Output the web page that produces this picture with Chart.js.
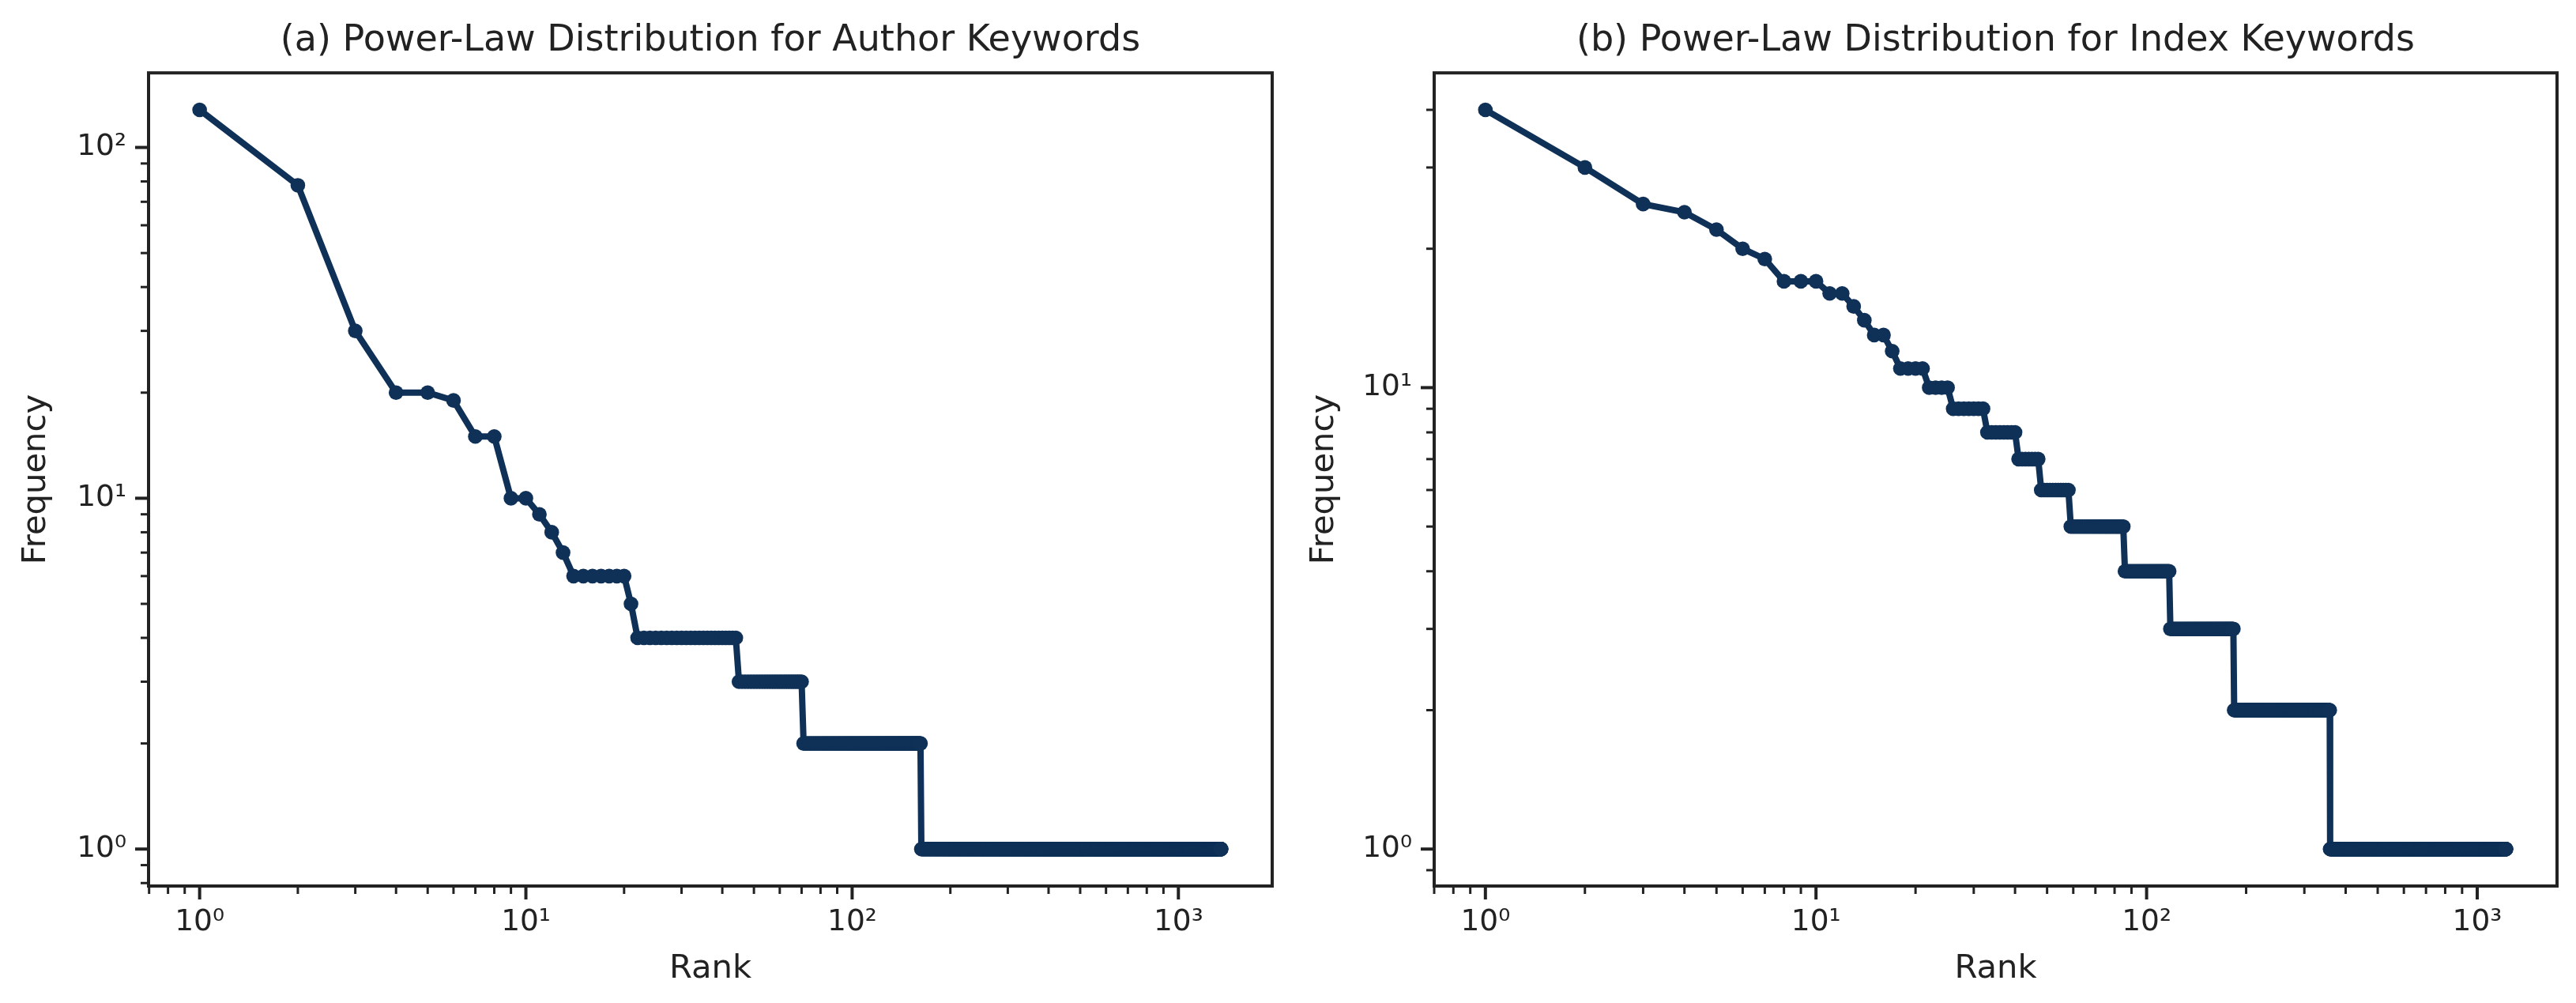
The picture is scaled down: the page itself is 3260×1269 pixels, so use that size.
<!DOCTYPE html>
<html>
<head>
<meta charset="utf-8">
<title>Power-Law Distributions</title>
<script src="https://cdn.jsdelivr.net/npm/chart.js@4.4.1/dist/chart.umd.min.js"></script>
<style>
  html, body { margin: 0; padding: 0; background: #fff; }
  #wrap { position: relative; width: 3260px; height: 1269px; }
  canvas { position: absolute; top: 0; }
</style>
</head>
<body>
<div id="wrap">
  <canvas id="authorChart" width="1630" height="1269" style="left:0"></canvas>
  <canvas id="indexChart" width="1630" height="1269" style="left:1630px"></canvas>
</div>
<script>
// keyword frequencies (highest first) and how many keywords share each one
const authorFreq = [128, 78, 30, 20, 19, 15, 10, 9, 8, 7, 6, 5, 4, 3, 2, 1]
const authorCount = [1, 1, 1, 2, 1, 2, 2, 1, 1, 1, 7, 1, 23, 26, 92, 1190]

const indexFreq = [40, 30, 25, 24, 22, 20, 19, 17, 16, 15, 14, 13, 12, 11, 10, 9, 8, 7, 6, 5, 4, 3, 2, 1]
const indexCount = [1, 1, 1, 1, 1, 1, 1, 3, 2, 1, 1, 2, 1, 4, 4, 7, 8, 7, 11, 27, 32, 66, 175, 864]

// tick labels
const rankTicks = [1, 10, 100, 1000]
const rankTickLabels = ['10⁰', '10¹', '10²', '10³']
const authorFreqTicks = [1, 10, 100]
const authorFreqTickLabels = ['10⁰', '10¹', '10²']
const indexFreqTicks = [1, 10]
const indexFreqTickLabels = ['10⁰', '10¹']

const lineColor = '#0f3157'
const ink = '#222222'

Chart.defaults.font.family = "'DejaVu Sans', sans-serif"
Chart.defaults.color = ink

// rank/frequency points: rank is the position in the sorted list
function toRankPoints(freqs, counts) {
    const pts = []
    let rank = 1
    freqs.forEach((f, i) => {
        for (let k = 0; k < counts[i]; k++) {
            pts.push({ x: rank, y: f })
            rank++
        }
    })
    return pts
}

// 5% padding in log space, like matplotlib autoscale
function logLimits(lo, hi) {
    const a = Math.log10(lo)
    const b = Math.log10(hi)
    const m = (b - a) * 0.05
    return [Math.pow(10, a - m), Math.pow(10, b + m)]
}

// box around the axes + outward major/minor ticks
const frameTicks = {
    id: 'frameTicks',
    afterDatasetsDraw(chart) {
        const { ctx, chartArea: a } = chart
        ctx.save()
        ctx.strokeStyle = ink
        ctx.lineWidth = 4
        ctx.strokeRect(a.left, a.top, a.right - a.left, a.bottom - a.top)
        ;['x', 'y'].forEach(id => {
            const s = chart.scales[id]
            const lo = Math.floor(Math.log10(s.min))
            const hi = Math.ceil(Math.log10(s.max))
            for (let e = lo; e <= hi; e++) {
                for (let m = 1; m <= 9; m++) {
                    const v = m * Math.pow(10, e)
                    if (v < s.min * 0.999 || v > s.max * 1.001) continue
                    const p = s.getPixelForValue(v)
                    const len = m === 1 ? 17 : 10
                    ctx.lineWidth = m === 1 ? 4 : 3
                    ctx.beginPath()
                    if (id === 'x') {
                        ctx.moveTo(p, a.bottom)
                        ctx.lineTo(p, a.bottom + len)
                    } else {
                        ctx.moveTo(a.left, p)
                        ctx.lineTo(a.left - len, p)
                    }
                    ctx.stroke()
                }
            }
        })
        ctx.restore()
    }
}

function makeChart(canvasId, title, freqs, counts, yTicks, yTickLabels, leftW, rightPad) {
    const points = toRankPoints(freqs, counts)
    const [xMin, xMax] = logLimits(1, points.length)
    const [yMin, yMax] = logLimits(Math.min(...freqs), Math.max(...freqs))

    return new Chart(document.getElementById(canvasId), {
        type: 'line',
        data: {
            datasets: [
                {
                    data: points,
                    borderColor: lineColor,
                    backgroundColor: lineColor,
                    borderWidth: 8,
                    pointRadius: 9.3,
                    pointHoverRadius: 9.3,
                    pointBorderWidth: 0,
                    pointBackgroundColor: lineColor,
                    tension: 0,
                    clip: false
                }
            ]
        },
        options: {
            responsive: false,
            animation: false,
            devicePixelRatio: 1,
            events: [],
            layout: { padding: { left: 0, right: rightPad, top: 0, bottom: 0 } },
            plugins: {
                legend: { display: false },
                tooltip: { enabled: false },
                title: {
                    display: true,
                    text: title,
                    color: ink,
                    fullSize: false,
                    font: { size: 46, weight: 'normal' },
                    padding: { top: 24, bottom: 13 }
                }
            },
            scales: {
                x: {
                    type: 'logarithmic',
                    min: xMin,
                    max: xMax,
                    grid: { display: false, drawTicks: false },
                    border: { display: false },
                    afterBuildTicks: s => { s.ticks = rankTicks.map(v => ({ value: v })) },
                    afterFit: s => { s.height = 148 },
                    ticks: {
                        autoSkip: false,
                        maxRotation: 0,
                        padding: 24,
                        color: ink,
                        font: { size: 37.5 },
                        callback: (v, i) => rankTickLabels[i]
                    },
                    title: {
                        display: true,
                        text: 'Rank',
                        color: ink,
                        font: { size: 41.7 },
                        padding: { top: 0, bottom: 18 }
                    }
                },
                y: {
                    type: 'logarithmic',
                    min: yMin,
                    max: yMax,
                    grid: { display: false, drawTicks: false },
                    border: { display: false },
                    afterBuildTicks: s => { s.ticks = yTicks.map(v => ({ value: v })) },
                    afterFit: s => { s.width = leftW },
                    ticks: {
                        autoSkip: false,
                        padding: 28,
                        color: ink,
                        font: { size: 37.5 },
                        callback: (v, i) => yTickLabels[i]
                    },
                    title: {
                        display: true,
                        text: 'Frequency',
                        color: ink,
                        font: { size: 41.7 },
                        padding: { top: 21, bottom: 0 }
                    }
                }
            }
        },
        plugins: [frameTicks]
    })
}

makeChart('authorChart', '(a) Power-Law Distribution for Author Keywords',
    authorFreq, authorCount, authorFreqTicks, authorFreqTickLabels, 188, 20)
makeChart('indexChart', '(b) Power-Law Distribution for Index Keywords',
    indexFreq, indexCount, indexFreqTicks, indexFreqTickLabels, 185, 24)
</script>
</body>
</html>
